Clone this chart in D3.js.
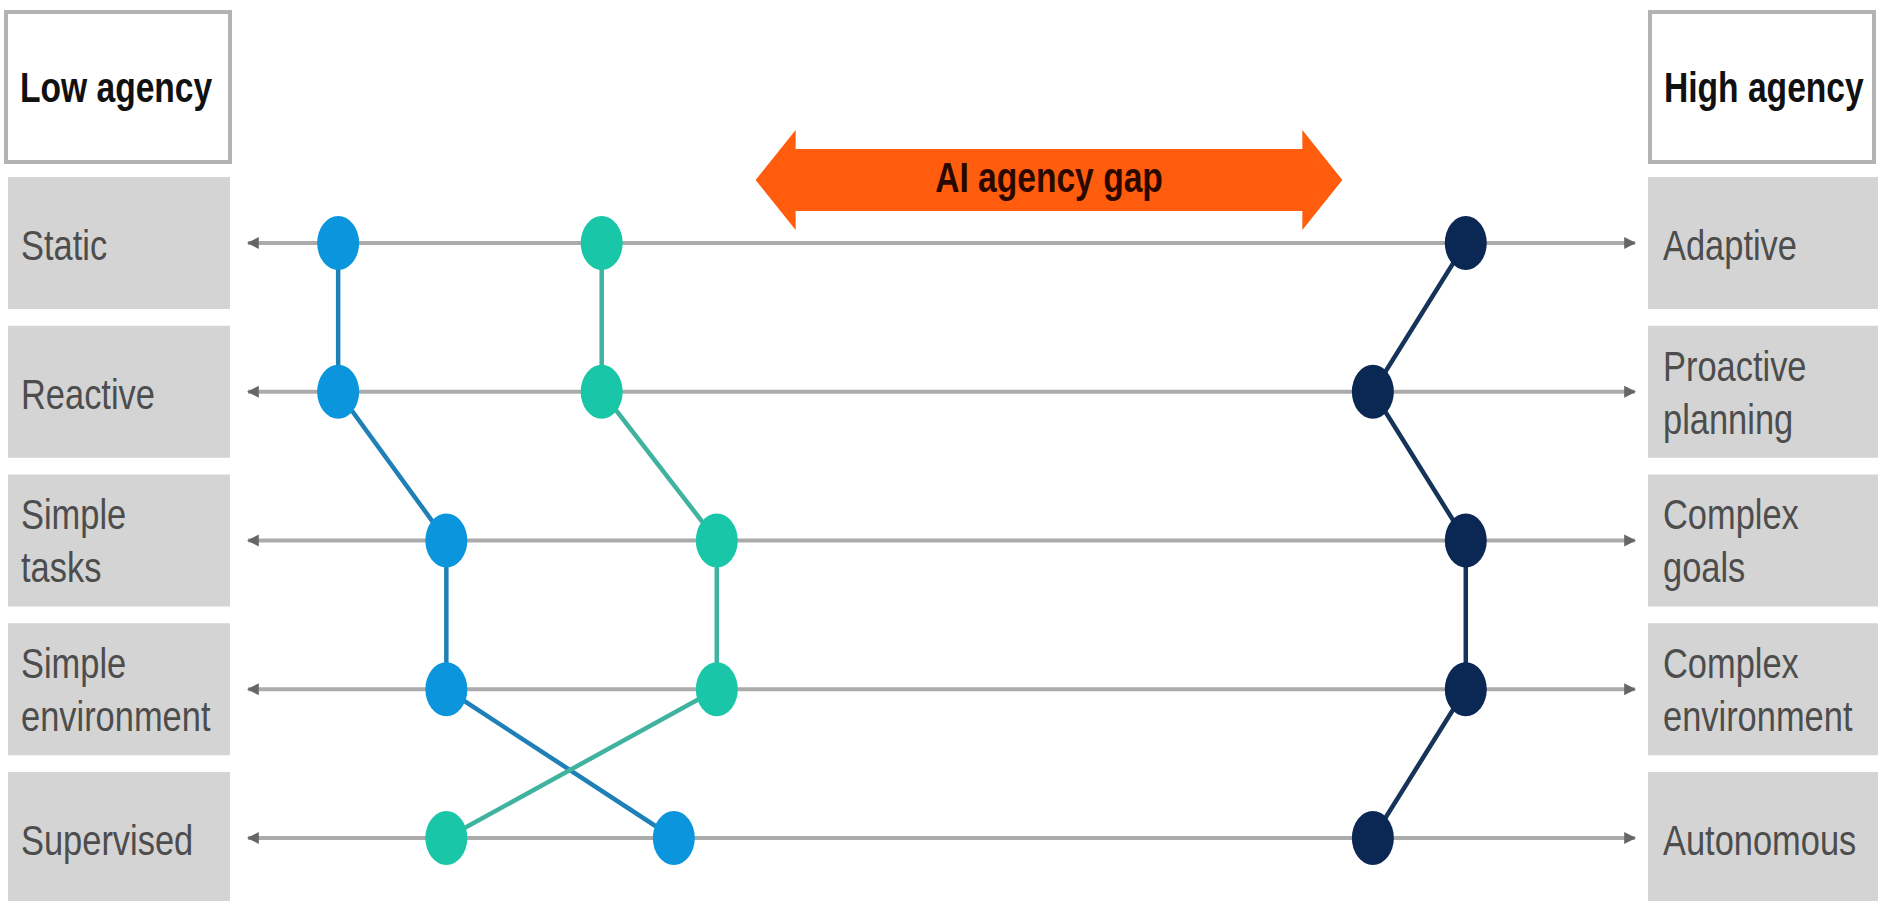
<!DOCTYPE html>
<html>
<head>
<meta charset="utf-8">
<script src="https://d3js.org/d3.v7.min.js"></script>
<style>
  body { margin: 0; background: #fff; }
  svg { display: block; font-family: 'Liberation Sans', Arial, sans-serif; }
</style>
</head>
<body>
<div class="vis"></div>
<script>
  let width = 1878
  let height = 901

  // rows, left (low agency) and right (high agency) end of each scale
  let rows = ['Static', 'Reactive', 'Simple tasks', 'Simple environment', 'Supervised']
  let leftLabels = [['Static'], ['Reactive'], ['Simple', 'tasks'], ['Simple', 'environment'], ['Supervised']]
  let rightLabels = [['Adaptive'], ['Proactive', 'planning'], ['Complex', 'goals'], ['Complex', 'environment'], ['Autonomous']]
  let headers = ['Low agency', 'High agency']

  // position of each series on every scale (0 = low agency, 100 = high agency)
  let blueValues = [6.5, 6.5, 14.3, 14.3, 30.7]
  let tealValues = [25.5, 25.5, 33.8, 33.8, 14.3]
  let navyValues = [87.8, 81.1, 87.8, 87.8, 81.1]
  let gapRange = [36.6, 78.9]
  let gapLabel = 'AI agency gap'

  let series = [
    { values: blueValues, dot: '#0a95dc', line: '#1f80b8' },
    { values: tealValues, dot: '#19c6a7', line: '#3fb3a0' },
    { values: navyValues, dot: '#0b2753', line: '#163359' },
  ]

  let svg = d3.select('.vis').append('svg').attr('width', width).attr('height', height)

  let x = d3.scaleLinear().domain([0, 100]).range([248, 1635])
  let y = d3.scalePoint().domain(rows).range([243, 838])

  let boxH = 132
  let squeeze = 0.82

  let addText = (g, lines, tx, cy, opts) => {
    let t = g.append('text')
      .attr('transform', `translate(${tx},0) scale(${opts.squeeze || squeeze},1)`)
      .attr('fill', opts.fill)
      .attr('font-size', opts.size)
      .attr('font-weight', opts.weight || 'normal')
      .attr('text-anchor', opts.anchor || 'start')
    if (lines.length === 1) {
      t.append('tspan').attr('x', 0).attr('y', cy + 17).text(lines[0])
    } else {
      t.append('tspan').attr('x', 0).attr('y', cy - 11).text(lines[0])
      t.append('tspan').attr('x', 0).attr('y', cy + 42).text(lines[1])
    }
  }

  // header boxes
  let heads = [{ x: 6, label: headers[0] }, { x: 1650, label: headers[1] }]
  heads.forEach((h) => {
    svg.append('rect')
      .attr('x', h.x).attr('y', 12).attr('width', 224).attr('height', 150)
      .attr('fill', '#fff').attr('stroke', '#b3b3b3').attr('stroke-width', 4)
    let g = svg.append('g')
    addText(g, [h.label], h.x + 14, 85, { fill: '#111', size: 42, weight: 'bold', squeeze: 0.8 })
  })

  // label boxes
  let leftG = svg.append('g')
  let rightG = svg.append('g')
  rows.forEach((r, i) => {
    leftG.append('rect')
      .attr('x', 8).attr('y', y(r) - boxH / 2).attr('width', 222).attr('height', boxH)
      .attr('fill', '#d4d4d4')
    addText(leftG, leftLabels[i], 21, y(r), { fill: '#4d4d4d', size: 42 })

    rightG.append('rect')
      .attr('x', 1648).attr('y', y(r) - boxH / 2).attr('width', 230).attr('height', boxH)
      .attr('fill', '#d4d4d4')
    addText(rightG, rightLabels[i], 1663, y(r), { fill: '#4d4d4d', size: 42 })
  })

  // scale lines with small arrowheads at each end
  let defs = svg.append('defs')
  defs.append('marker')
    .attr('id', 'tip')
    .attr('viewBox', '0 0 10 10')
    .attr('refX', 9).attr('refY', 5)
    .attr('markerWidth', 3).attr('markerHeight', 4)
    .attr('orient', 'auto-start-reverse')
    .append('path').attr('d', 'M0,0 L10,5 L0,10 Z').attr('fill', '#666')

  svg.append('g')
    .selectAll('line')
    .data(rows)
    .join('line')
    .attr('x1', x(0)).attr('x2', x(100))
    .attr('y1', (d) => y(d)).attr('y2', (d) => y(d))
    .attr('stroke', '#ababab').attr('stroke-width', 4)
    .attr('marker-start', 'url(#tip)')
    .attr('marker-end', 'url(#tip)')

  // gap arrow
  let gx0 = x(gapRange[0]), gx1 = x(gapRange[1]), gy = 180
  let headLen = 40, shaftH = 31, headH = 50
  svg.append('path')
    .attr('d', `M${gx0},${gy} L${gx0 + headLen},${gy - headH} L${gx0 + headLen},${gy - shaftH}
      L${gx1 - headLen},${gy - shaftH} L${gx1 - headLen},${gy - headH} L${gx1},${gy}
      L${gx1 - headLen},${gy + headH} L${gx1 - headLen},${gy + shaftH}
      L${gx0 + headLen},${gy + shaftH} L${gx0 + headLen},${gy + headH} Z`)
    .attr('fill', '#ff5d0d')
  let gg = svg.append('g')
  addText(gg, [gapLabel], (gx0 + gx1) / 2, gy - 5, { fill: '#2a0800', size: 42, weight: 'bold', anchor: 'middle', squeeze: 0.8 })

  // series paths and dots
  let line = d3.line().x((d) => x(d.v)).y((d) => y(d.r))
  series.forEach((s) => {
    let pts = rows.map((r, i) => ({ r: r, v: s.values[i] }))
    svg.append('path')
      .datum(pts)
      .attr('d', line)
      .attr('fill', 'none')
      .attr('stroke', s.line)
      .attr('stroke-width', 4.5)
    svg.append('g')
      .selectAll('ellipse')
      .data(pts)
      .join('ellipse')
      .attr('cx', (d) => x(d.v))
      .attr('cy', (d) => y(d.r))
      .attr('rx', 21).attr('ry', 27)
      .attr('fill', s.dot)
  })
</script>
</body>
</html>
